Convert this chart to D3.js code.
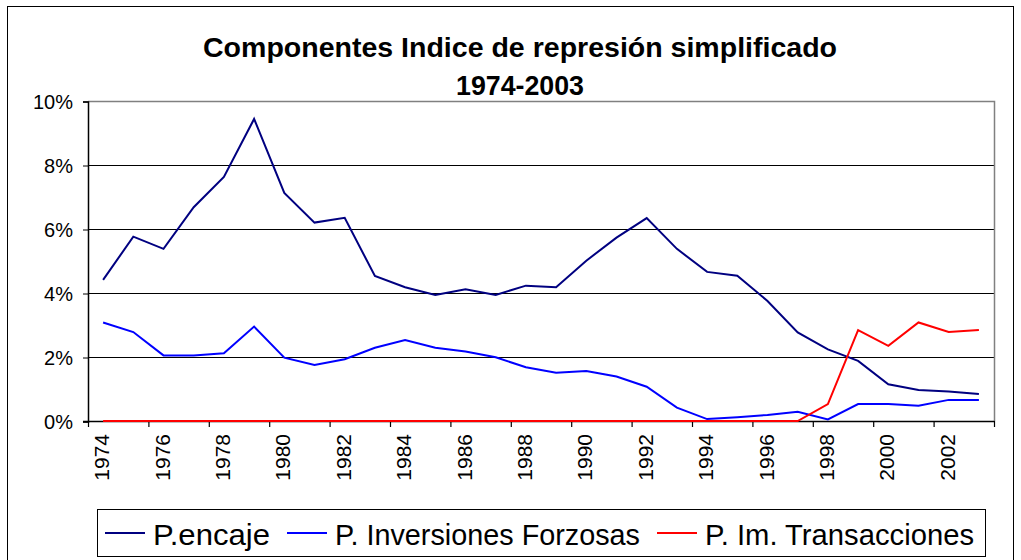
<!DOCTYPE html>
<html>
<head>
<meta charset="utf-8">
<script src="https://cdn.jsdelivr.net/npm/d3@7"></script>
<style>
  body { margin: 0; background: #fff; }
  svg text { font-family: "Liberation Sans", Arial, sans-serif; fill: #000; }
</style>
</head>
<body>
<svg id="chart" width="1021" height="560"></svg>
<script>
// data (values in %)
const years = d3.range(1974, 2004);
const encaje = [4.41, 5.76, 5.38, 6.68, 7.63, 9.44, 7.13, 6.20, 6.35, 4.53,
                4.18, 3.94, 4.12, 3.94, 4.23, 4.18, 5.01, 5.73, 6.34, 5.38,
                4.66, 4.54, 3.75, 2.77, 2.24, 1.88, 1.15, 0.97, 0.92, 0.84];
const inversiones = [3.08, 2.78, 2.05, 2.05, 2.12, 2.95, 1.98, 1.75, 1.93, 2.29,
                     2.53, 2.29, 2.17, 1.99, 1.68, 1.51, 1.56, 1.39, 1.07, 0.42,
                     0.06, 0.12, 0.19, 0.29, 0.05, 0.53, 0.53, 0.48, 0.66, 0.66];
const transacciones = [0, 0, 0, 0, 0, 0, 0, 0, 0, 0,
                       0, 0, 0, 0, 0, 0, 0, 0, 0, 0,
                       0, 0, 0, 0, 0.53, 2.84, 2.35, 3.08, 2.78, 2.84];
const yTicks = [0, 2, 4, 6, 8, 10];
const seriesNames = ["P.encaje", "P. Inversiones Forzosas", "P. Im. Transacciones"];
const seriesColors = ["#000080", "#0000ff", "#ff0000"];

const svg = d3.select("#chart");
const plotL = 88, plotR = 994, plotT = 101, plotB = 421;

const x = d3.scaleBand().domain(years).range([plotL, plotR]);
const y = d3.scaleLinear().domain([0, 10]).range([plotB, plotT]);
const cx = d => x(d) + x.bandwidth() / 2;

// outer frame
svg.append("rect").attr("x", 7.5).attr("y", 6.5).attr("width", 1006).attr("height", 560)
   .attr("fill", "none").attr("stroke", "#000");

// title
svg.append("text").attr("x", 520).attr("y", 57).attr("text-anchor", "middle")
   .attr("font-size", 28).attr("font-weight", "bold")
   .attr("textLength", 634).attr("lengthAdjust", "spacingAndGlyphs")
   .text("Componentes Indice de represión simplificado");
svg.append("text").attr("x", 520).attr("y", 95).attr("text-anchor", "middle")
   .attr("font-size", 28).attr("font-weight", "bold")
   .attr("textLength", 128).attr("lengthAdjust", "spacingAndGlyphs")
   .text("1974-2003");

// gridlines
svg.append("g").selectAll("line").data(yTicks.filter(t => t > 0 && t < 10)).enter()
   .append("line")
   .attr("x1", plotL).attr("x2", plotR)
   .attr("y1", d => y(d) + 0.5).attr("y2", d => y(d) + 0.5)
   .attr("stroke", "#000").attr("stroke-width", 1);

// plot border top & right (grey)
svg.append("path")
   .attr("d", `M${plotL},${plotT + 0.5}H${plotR + 0.5}V${plotB}`)
   .attr("fill", "none").attr("stroke", "#808080").attr("stroke-width", 1.5);

// y axis
const yAxis = d3.axisLeft(y).tickValues(yTicks).tickSize(5).tickFormat(d => d + "%");
const ya = svg.append("g").attr("transform", `translate(${plotL},0.5)`).call(yAxis);
ya.select(".domain").attr("stroke", "#000").attr("stroke-width", 1.5);
ya.selectAll("text").attr("font-size", 20).attr("x", -15).attr("dy", "0.36em")
  .style("font-family", '"Liberation Sans", Arial, sans-serif');

// x axis line
svg.append("line").attr("x1", plotL - 5).attr("x2", plotR + 0.5)
   .attr("y1", plotB + 0.5).attr("y2", plotB + 0.5)
   .attr("stroke", "#000").attr("stroke-width", 1.5);

// x ticks at category boundaries, every 2 years
const tickYears = years.filter((d, i) => i % 2 === 0);
const tickPos = tickYears.map(d => x(d)).concat([plotR]);
svg.append("g").selectAll("line").data(tickPos).enter().append("line")
   .attr("x1", d => d + 0.5).attr("x2", d => d + 0.5)
   .attr("y1", plotB).attr("y2", plotB + 6)
   .attr("stroke", "#000").attr("stroke-width", 1.2);

// x labels, rotated
svg.append("g").selectAll("text").data(tickYears).enter().append("text")
   .attr("transform", d => `translate(${cx(d) + 6},${plotB + 13}) rotate(-90)`)
   .attr("text-anchor", "end").attr("font-size", 21)
   .text(d => d);

// lines
const seriesData = [encaje, inversiones, transacciones];
const line = d3.line().x((d, i) => cx(years[i])).y(d => y(d));
svg.append("g").selectAll("path").data(seriesData).enter().append("path")
   .attr("d", d => line(d))
   .attr("fill", "none")
   .attr("stroke", (d, i) => seriesColors[i])
   .attr("stroke-width", 2)
   .attr("stroke-linejoin", "miter");

// legend
const legend = svg.append("g");
legend.append("rect").attr("x", 97.5).attr("y", 509.5).attr("width", 888).attr("height", 47)
   .attr("fill", "#fff").attr("stroke", "#000");
const legX = [105, 287, 657];
const legW = [117, 305, 269];
seriesNames.forEach((name, i) => {
  legend.append("line").attr("x1", legX[i]).attr("x2", legX[i] + 40)
     .attr("y1", 533).attr("y2", 533)
     .attr("stroke", seriesColors[i]).attr("stroke-width", 2);
  legend.append("text").attr("x", legX[i] + 48).attr("y", 545)
     .attr("font-size", 30)
     .attr("textLength", legW[i]).attr("lengthAdjust", "spacingAndGlyphs")
     .text(name);
});
</script>
</body>
</html>
